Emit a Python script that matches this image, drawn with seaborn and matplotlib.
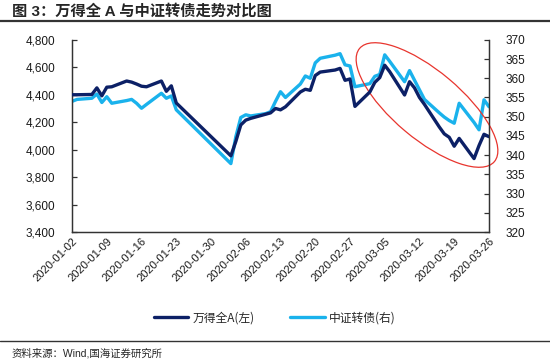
import numpy as np
import pandas as pd
import matplotlib
matplotlib.use("Agg")
import matplotlib.pyplot as plt
import matplotlib.dates as mdates
from matplotlib.patches import Ellipse
from matplotlib.lines import Line2D
from matplotlib.transforms import IdentityTransform
import seaborn as sns

sns.set_style("white")
plt.rcParams['font.family'] = ['Liberation Sans', 'Noto Sans CJK SC', 'DejaVu Sans']

# 交易日
dates = ["2020-01-02", "2020-01-03", "2020-01-06", "2020-01-07", "2020-01-08", "2020-01-09",
         "2020-01-10", "2020-01-13", "2020-01-14", "2020-01-15", "2020-01-16", "2020-01-17",
         "2020-01-20", "2020-01-21", "2020-01-22", "2020-01-23",
         "2020-02-03", "2020-02-04", "2020-02-05", "2020-02-06", "2020-02-07",
         "2020-02-10", "2020-02-11", "2020-02-12", "2020-02-13", "2020-02-14",
         "2020-02-17", "2020-02-18", "2020-02-19", "2020-02-20", "2020-02-21",
         "2020-02-24", "2020-02-25", "2020-02-26", "2020-02-27", "2020-02-28",
         "2020-03-02", "2020-03-03", "2020-03-04", "2020-03-05", "2020-03-06",
         "2020-03-09", "2020-03-10", "2020-03-11", "2020-03-12", "2020-03-13",
         "2020-03-16", "2020-03-17", "2020-03-18", "2020-03-19", "2020-03-20",
         "2020-03-23", "2020-03-24", "2020-03-25", "2020-03-26"]

# 万得全A(左轴)
wind_a = [4400, 4400, 4402, 4450, 4392, 4455, 4458, 4500, 4492, 4478, 4462, 4458,
          4500, 4425, 4465, 4340,
          3955, 4060, 4180, 4215, 4228,
          4258, 4268, 4300, 4290, 4312,
          4420, 4440, 4432, 4540, 4565,
          4580, 4592, 4505, 4515, 4315,
          4420, 4490, 4525, 4615, 4568,
          4398, 4495, 4450, 4380, 4330,
          4165, 4115, 4090, 4025, 4082,
          3935, 4030, 4112, 4095]

# 中证转债(右轴)
cb_index = [354.0, 354.5, 354.8, 355.9, 353.7, 355.2, 353.5, 354.2, 354.5, 353.5, 352.2, 353.2,
            356.1, 354.8, 355.4, 351.8,
            337.8, 344.8, 349.8, 350.5, 350.2,
            350.8, 351.3, 354.0, 356.5, 355.0,
            358.5, 360.6, 360.0, 364.0, 365.2,
            366.0, 366.4, 363.5, 363.2, 357.8,
            358.6, 360.5, 361.0, 366.1, 364.4,
            359.1, 362.0, 359.5, 357.0, 354.5,
            351.0, 349.9, 349.0, 348.3, 353.5,
            348.5, 346.6, 354.4, 352.6]

tick_dates = ["2020-01-02", "2020-01-09", "2020-01-16", "2020-01-23", "2020-01-30",
              "2020-02-06", "2020-02-13", "2020-02-20", "2020-02-27", "2020-03-05",
              "2020-03-12", "2020-03-19", "2020-03-26"]

df = pd.DataFrame({"date": pd.to_datetime(dates), "wind_a": wind_a, "cb": cb_index})

dark = "#0c2066"
light = "#1ab2ec"

fig = plt.figure(figsize=(5.5, 3.62), dpi=100)
ax = fig.add_axes([0.131, 0.359, 0.758, 0.531])
ax2 = ax.twinx()

sns.lineplot(data=df, x="date", y="wind_a", ax=ax, color=dark, linewidth=2.4, zorder=3)
sns.lineplot(data=df, x="date", y="cb", ax=ax2, color=light, linewidth=2.4, zorder=2)
ax.set_zorder(ax2.get_zorder() + 1)
ax.patch.set_visible(False)

ax.set_ylim(3400, 4800)
ax.set_yticks(np.arange(3400, 4801, 200))
ax.yaxis.set_major_formatter(matplotlib.ticker.FuncFormatter(lambda v, p: f"{v:,.0f}"))
ax2.set_ylim(320, 370)
ax2.set_yticks(np.arange(320, 371, 5))

ax.set_xlim(pd.Timestamp("2020-01-02"), pd.Timestamp("2020-03-26"))
ax.set_xticks(pd.to_datetime(tick_dates))
ax.xaxis.set_major_formatter(mdates.DateFormatter("%Y-%m-%d"))

for a in (ax, ax2):
    a.set_xlabel("")
    a.set_ylabel("")
    for s in a.spines.values():
        s.set_color("#333333")
        s.set_linewidth(0.9)
    a.spines["top"].set_visible(False)
    a.tick_params(direction="in", length=3.5, width=0.9, color="#333333",
                  labelsize=8.5, labelcolor="#1a1a1a", pad=4)
ax.tick_params(axis="y", pad=12)
ax2.tick_params(axis="y", pad=12)
ax.tick_params(axis="x", labelsize=8, pad=3)
for lbl in ax.get_xticklabels():
    lbl.set_rotation(45)
    lbl.set_ha("right")
    lbl.set_va("top")
    lbl.set_rotation_mode("anchor")

# 红色椭圆标注
ell = Ellipse((427, 362 - 105), width=176, height=68, angle=-40,
              transform=IdentityTransform(), fill=False, edgecolor="#e8352e", linewidth=0.9)
fig.add_artist(ell)

# 标题
fig.text(12 / 550, 1 - 11 / 362, "图 3：万得全 A 与中证转债走势对比图", fontsize=11,
         fontweight="bold", va="center", ha="left",
         family=["Liberation Sans", "Noto Sans CJK SC"])
fig.add_artist(Line2D([0, 1], [1 - 21 / 362, 1 - 21 / 362], transform=fig.transFigure,
                      color="#333333", linewidth=1.6))
fig.add_artist(Line2D([0, 1], [1 - 341 / 362, 1 - 341 / 362], transform=fig.transFigure,
                      color="#333333", linewidth=1.0))
fig.text(12 / 550, 1 - 353 / 362, "资料来源：Wind,国海证券研究所", fontsize=7.5,
         va="center", ha="left", family=["Liberation Sans", "Noto Sans CJK SC"])

handles = [Line2D([], [], color=dark, linewidth=2.4), Line2D([], [], color=light, linewidth=2.4)]
fig.legend(handles, ["万得全A(左)", "中证转债(右)"], loc="center", ncol=2,
           bbox_to_anchor=(275 / 550, 1 - 318 / 362), frameon=False,
           prop={"family": ["Noto Sans CJK SC"], "size": 8.5},
           handlelength=2.9, columnspacing=3.0, handletextpad=0.4)

fig.savefig("out.png", dpi=100)
